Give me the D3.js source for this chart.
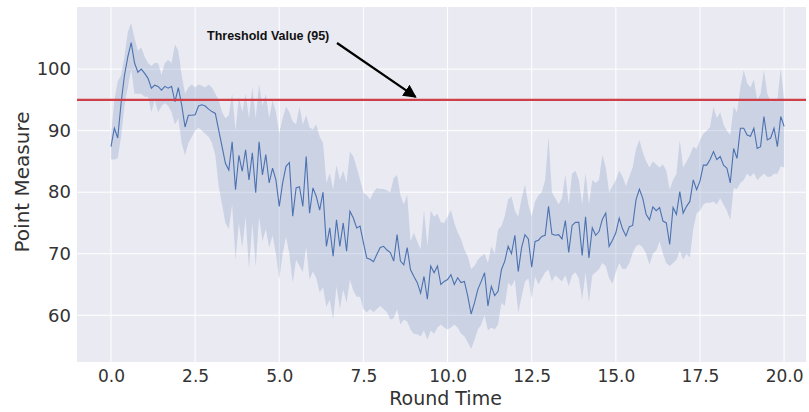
<!DOCTYPE html>
<html>
<head>
<meta charset="utf-8">
<script src="https://cdn.jsdelivr.net/npm/d3@7/dist/d3.min.js"></script>
<style>
  body { margin: 0; background: #fff; }
  svg { display: block; font-family: "DejaVu Sans", sans-serif; }
</style>
</head>
<body>
<svg width="809" height="412"></svg>
<script>
// sample times 0.0 .. 20.0 every 0.1
var roundTime = d3.range(0, 201).map(function (i) { return i / 10; });

var meanPoints = [
  87.4, 90.4, 88.8, 94.5, 99, 102, 104.3, 101, 99.5, 100,
  99.3, 98.5, 96.9, 97.4, 97.2, 96.6, 97.2, 96.9, 97.2, 94.7,
  97, 94.2, 90.6, 92.5, 92.5, 92.6, 94, 94.2, 94, 93.5,
  93.1, 92.8, 90.1, 87.4, 84.7, 83.6, 88.2, 80.4, 86, 83.4,
  86.9, 82, 86.4, 79.9, 88.2, 82.8, 86.1, 81.5, 83.9, 82,
  77.7, 81.5, 84.2, 84.8, 76.1, 80.7, 80.9, 77.7, 85.8, 76.6,
  80.7, 79.3, 77.1, 80, 71.2, 74.2, 69.6, 75.5, 71.2, 75,
  70.4, 76.9, 75.8, 74.2, 74.5, 71.8, 69.3, 69.1, 68.7, 69.9,
  71, 71.2, 70.6, 70.2, 68.8, 73.1, 68.8, 68.2, 71, 67.4,
  66.3, 65.3, 63.6, 66.3, 62.6, 68, 66.9, 68, 65, 65.5,
  65.8, 66.6, 65, 66.1, 65.3, 65.5, 63.1, 60.2, 62, 64.2,
  65.5, 66.9, 61.5, 64.7, 63.2, 63.9, 67.4, 68.8, 71.2, 70,
  73, 67.1, 71, 73.1, 72.4, 67.8, 72, 72.2, 72.8, 73,
  77.7, 73.2, 73, 73.1, 72.4, 75.4, 70.2, 74.6, 75.1, 75.1,
  69.7, 76, 69.3, 74.2, 73, 73.6, 75.6, 76.6, 71.2, 72.2,
  73.4, 75.8, 74, 72.9, 74.4, 74.6, 78.8, 80.5, 79, 76.4,
  75.5, 77.6, 77, 77.5, 75.3, 75, 71.5, 77.5, 76.4, 80.1,
  76.6, 77.7, 78.5, 82, 80.4, 81.8, 84.4, 84.4, 85.3, 86.6,
  85.3, 85.8, 84.4, 83.9, 81.5, 87.1, 85.5, 90.4, 90.4, 89.3,
  89.1, 90.4, 87.1, 87.4, 92.3, 88.5, 88.8, 90.4, 87.4, 92.3,
  90.7
];

var lowerBand = [
  85.3, 85.3, 85.5, 89, 94, 97, 100, 96, 96, 96,
  95.5, 95.5, 93, 95, 93, 94, 94.5, 94, 93, 91,
  92, 88, 86, 88, 89, 90, 90.5, 90, 89.5, 89,
  88, 86, 81, 78, 75, 74, 78, 69, 75, 71,
  76, 67.5, 75, 68, 76, 72, 74, 71, 73, 70,
  65.8, 70, 72.8, 70, 65.3, 69, 68, 67, 71.2, 65.8,
  67.1, 66, 63.7, 64.5, 61.4, 62.5, 59.3, 64.7, 61, 64.2,
  62, 65.8, 64, 63, 63, 61, 60.5, 61, 60.5, 61,
  61.5, 61, 60.5, 59.3, 59.5, 61, 58.5, 59.3, 59, 57.7,
  57, 56.9, 56.6, 57.5, 56, 57.5, 57, 58, 58.5, 58,
  57.7, 58, 58.5, 58, 57, 56.6, 55.6, 54.5, 56, 57.7,
  58.5, 60, 57.5, 58, 57.7, 58.5, 62, 61.5, 65.3, 64.7,
  65.8, 60.4, 63, 65.5, 66, 62.7, 66.3, 65, 66, 67,
  67.4, 65.5, 66.5, 66, 65.5, 66.5, 64.7, 66.5, 67, 66,
  62.6, 67, 62.1, 66.5, 67, 67.5, 68.5, 68, 66, 65.1,
  67, 68.5, 67.5, 67.5, 68.5, 70.1, 71.2, 71.5, 71, 70,
  68.2, 70, 70.5, 72, 70, 68.5, 68, 68.5, 69, 70.5,
  69, 70, 69.4, 74, 76.6, 77, 78, 78.3, 78.3, 78.5,
  78, 79, 78, 77, 75.5, 80.7, 80.5, 81.5, 82, 83,
  82.5, 83.1, 82, 82.5, 83, 82.5, 82.5, 83, 83, 84.2,
  84
];

var upperBand = [
  89, 95, 98, 99, 102, 106, 107.5, 105, 103, 103.5,
  102, 101, 100.5, 101, 101, 99, 101, 101.5, 101, 104,
  103, 99, 96, 97, 97.5, 97, 97.5, 97.3, 97, 97.5,
  97, 96, 95, 93, 92, 92.5, 96, 90, 95.5, 93,
  96, 92, 97, 92, 97.5, 94, 96, 92, 95, 93,
  89.6, 92, 93.9, 93, 91.5, 91, 93.9, 91, 92.5, 90.5,
  90.2, 91, 89, 88, 81.5, 83.1, 80.4, 84.4, 82, 83.5,
  81.5, 86.6, 85.8, 84, 82, 79.9, 79.5, 78.8, 80, 80.7,
  80.5, 80.5, 80.3, 80, 82.3, 82.8, 79.5, 78, 79.6, 72,
  73.4, 72, 70.7, 77.1, 71.2, 77, 76, 76.5, 75.1, 75,
  76, 77.1, 75, 73.5, 72.3, 70.7, 69.6, 67.5, 68, 69,
  69.6, 70, 68.5, 71.2, 70, 73.9, 74.5, 76.1, 78.8, 79.3,
  77, 76, 79, 81.2, 78, 76.1, 78.5, 79.5, 80, 82,
  89, 80, 79, 78, 79, 82.9, 78, 83, 83.5, 82,
  78, 83.1, 78, 82, 81.5, 82, 86.1, 84, 80, 81,
  82, 83.5, 82.5, 81, 82.5, 84, 87, 88.5, 86.5, 85,
  84, 85, 84.5, 84, 84.5, 83.5, 80.4, 82, 83, 88.5,
  84, 85, 86, 87.4, 87, 88.5, 89.5, 90, 90.6, 93.9,
  92, 93, 91, 90, 89.3, 93.9, 93, 97, 99.8, 97.7,
  97, 98.3, 95, 96, 99.8, 96, 94.7, 95, 95, 100.1,
  95
];

var xTicks = [0, 2.5, 5, 7.5, 10, 12.5, 15, 17.5, 20];
var yTicks = [60, 70, 80, 90, 100];
var threshold = 95;
var thresholdLabel = 'Threshold Value (95)';

(function () {
  'use strict';
  var left = 77, right = 806, top = 7, bottom = 362;
  var blue = '#4c72b0';

  var svg = d3.select('svg');

  var x = d3.scaleLinear().domain([-1.01, 20.65]).range([left, right]);
  var y = d3.scaleLinear().domain([52.4, 110.1]).range([bottom, top]);

  // plot background
  svg.append('rect')
    .attr('x', left).attr('y', top)
    .attr('width', right - left).attr('height', bottom - top)
    .attr('fill', '#eaeaf2');

  // grid
  svg.append('g').selectAll('line').data(xTicks).enter().append('line')
    .attr('x1', x).attr('x2', x)
    .attr('y1', top).attr('y2', bottom)
    .attr('stroke', '#fff').attr('stroke-width', 1);
  svg.append('g').selectAll('line').data(yTicks).enter().append('line')
    .attr('x1', left).attr('x2', right)
    .attr('y1', y).attr('y2', y)
    .attr('stroke', '#fff').attr('stroke-width', 1);

  var rows = roundTime.map(function (t, i) {
    return { t: t, m: meanPoints[i], lo: lowerBand[i], hi: upperBand[i] };
  });

  var band = d3.area()
    .x(function (d) { return x(d.t); })
    .y0(function (d) { return y(d.lo); })
    .y1(function (d) { return y(d.hi); });
  svg.append('path').datum(rows)
    .attr('d', band)
    .attr('fill', blue).attr('fill-opacity', 0.2);

  var line = d3.line()
    .x(function (d) { return x(d.t); })
    .y(function (d) { return y(d.m); });
  svg.append('path').datum(rows)
    .attr('d', line)
    .attr('fill', 'none')
    .attr('stroke', blue).attr('stroke-width', 1.1);

  // threshold line
  svg.append('line')
    .attr('x1', left).attr('x2', right)
    .attr('y1', y(threshold)).attr('y2', y(threshold))
    .attr('stroke', '#cf3f47').attr('stroke-width', 2.2);

  // axes
  var xAxis = d3.axisBottom(x).tickValues(xTicks).tickSize(0).tickPadding(8)
    .tickFormat(d3.format('.1f'));
  var gx = svg.append('g').attr('transform', 'translate(0,' + bottom + ')').call(xAxis);
  gx.select('.domain').remove();
  gx.selectAll('text').attr('font-size', 17).attr('fill', '#333')
    .attr('font-family', '"DejaVu Sans", sans-serif');

  var yAxis = d3.axisLeft(y).tickValues(yTicks).tickSize(0).tickPadding(6);
  var gy = svg.append('g').attr('transform', 'translate(' + left + ',0)').call(yAxis);
  gy.select('.domain').remove();
  gy.selectAll('text').attr('font-size', 18).attr('fill', '#333')
    .attr('font-family', '"DejaVu Sans", sans-serif');

  svg.append('text')
    .attr('x', (left + right) / 2 + 4).attr('y', 405)
    .attr('text-anchor', 'middle')
    .attr('font-size', 19).attr('fill', '#333')
    .text('Round Time');

  svg.append('text')
    .attr('transform', 'translate(29,182) rotate(-90)')
    .attr('text-anchor', 'middle')
    .attr('font-size', 20).attr('fill', '#333')
    .text('Point Measure');

  // annotation
  svg.append('defs').append('marker')
    .attr('id', 'head')
    .attr('viewBox', '0 0 10 10')
    .attr('refX', 9).attr('refY', 5)
    .attr('markerWidth', 6).attr('markerHeight', 6)
    .attr('orient', 'auto')
    .append('path').attr('d', 'M0,0L10,5L0,10z').attr('fill', '#000');

  svg.append('text')
    .attr('x', 207).attr('y', 40)
    .attr('font-family', '"Liberation Sans", Arial, sans-serif')
    .attr('font-weight', 'bold').attr('font-size', 12.5)
    .attr('fill', '#111')
    .text(thresholdLabel);

  svg.append('line')
    .attr('x1', 337).attr('y1', 43)
    .attr('x2', x(9.05)).attr('y2', y(threshold) - 3)
    .attr('stroke', '#000').attr('stroke-width', 2.2)
    .attr('marker-end', 'url(#head)');
})();
</script>
</body>
</html>
